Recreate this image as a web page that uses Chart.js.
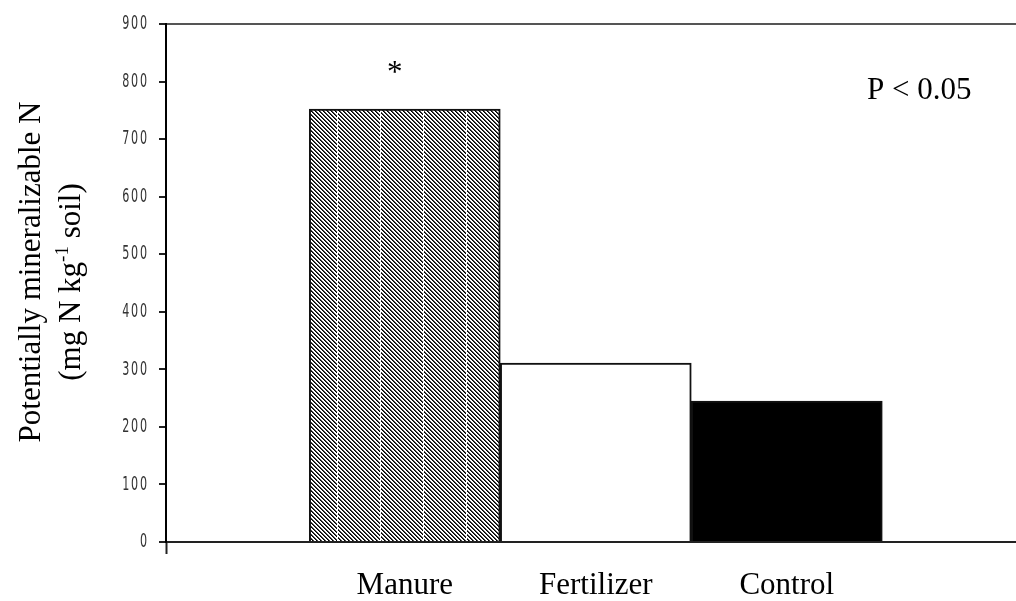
<!DOCTYPE html>
<html>
<head>
<meta charset="utf-8">
<script src="https://cdn.jsdelivr.net/npm/chart.js@4/dist/chart.umd.min.js"></script>
<style>
  body { margin: 0; background: #fff; }
  #wrap { width: 1016px; height: 601px; }
</style>
</head>
<body>
<div id="wrap"><canvas id="chart" width="1016" height="601"></canvas></div>
<script>
// data
const categories = ['Manure', 'Fertilizer', 'Control'];
const positions = [1, 2, 3];
const mineralN = [752, 311, 245];
const yTicks = [0, 100, 200, 300, 400, 500, 600, 700, 800, 900];
const yTitle = ['Potentially mineralizable N', '(mg N kg', '-1', ' soil)'];
const significance = 'P < 0.05';
const starLabel = '*';

const serif = "'Liberation Serif', 'Times New Roman', serif";
const yTickPad = 10;

// hatched fill for the manure bar
function makeHatch() {
    const c = document.createElement('canvas');
    c.width = 172;
    c.height = 4;
    const g = c.getContext('2d');
    const img = g.createImageData(c.width, c.height);
    for (let y = 0; y < c.height; y++) {
        for (let x = 0; x < c.width; x++) {
            const d = (((x - y) % 4) + 4) % 4;
            let v = d === 0 ? 0 : (d === 1 ? 70 : 255);
            if (x % 43 === 36) v = 255;
            const i = (y * c.width + x) * 4;
            img.data[i] = v; img.data[i + 1] = v; img.data[i + 2] = v; img.data[i + 3] = 255;
        }
    }
    g.putImageData(img, 0, 0);
    return g.createPattern(c, 'repeat');
}

const ctx = document.getElementById('chart').getContext('2d');
const hatch = makeHatch();

// narrow, spaced-out y tick digits like the original
const spacedTicks = {
    id: 'spacedTicks',
    beforeDraw(chart) {
        const y = chart.scales.y;
        if (y._spaced) return;
        const orig = y.drawLabels;
        y.drawLabels = function(area) {
            const c = this.ctx;
            const anchor = this.right - 7 - yTickPad;
            c.save();
            c.translate(anchor, 0);
            c.scale(0.62, 1);
            c.translate(-anchor, 0);
            c.letterSpacing = '3px';
            orig.call(this, area);
            c.restore();
        };
        y._spaced = true;
    }
};

// rotated two-line axis title with superscript, star and P value
const annotations = {
    id: 'annotations',
    afterDraw(chart) {
        const c = chart.ctx;
        const xs = chart.scales.x;
        const ys = chart.scales.y;
        const area = chart.chartArea;
        c.save();
        c.fillStyle = '#000';
        c.textBaseline = 'alphabetic';

        // line 1
        c.font = '31px ' + serif;
        c.save();
        c.translate(40, 272);
        c.rotate(-Math.PI / 2);
        c.textAlign = 'center';
        c.fillText(yTitle[0], 0, 0);
        c.restore();

        // line 2 with superscript
        c.save();
        c.translate(80, 282);
        c.rotate(-Math.PI / 2);
        c.textAlign = 'left';
        c.font = '31px ' + serif;
        const w1 = c.measureText(yTitle[1]).width;
        const w3 = c.measureText(yTitle[3]).width;
        c.font = '19px ' + serif;
        const w2 = c.measureText(yTitle[2]).width;
        let x0 = -(w1 + w2 + w3) / 2;
        c.font = '31px ' + serif;
        c.fillText(yTitle[1], x0, 0);
        c.font = '19px ' + serif;
        c.fillText(yTitle[2], x0 + w1, -12);
        c.font = '31px ' + serif;
        c.fillText(yTitle[3], x0 + w1 + w2, 0);
        c.restore();

        // significance star over the manure bar
        c.font = '31px ' + serif;
        c.textAlign = 'center';
        c.fillText(starLabel, xs.getPixelForValue(positions[0]) - 10, ys.getPixelForValue(mineralN[0]) - 27);

        c.textAlign = 'left';
        c.fillText(significance, area.right - 149, 99);
        c.restore();
    }
};

const chart = new Chart(ctx, {
    type: 'bar',
    data: {
        datasets: [{
            data: positions.map((p, i) => ({ x: p, y: mineralN[i] })),
            backgroundColor: [hatch, '#ffffff', '#000000'],
            borderColor: '#111',
            borderWidth: 2,
            categoryPercentage: 1,
            barPercentage: 1
        }]
    },
    options: {
        responsive: false,
        animation: false,
        layout: { padding: { top: 24, right: 0, left: 0, bottom: 0 } },
        plugins: {
            legend: { display: false },
            tooltip: { enabled: false }
        },
        scales: {
            x: {
                type: 'linear',
                min: -0.25,
                max: 4.2,
                offset: false,
                afterBuildTicks(scale) {
                    scale.ticks = [{ value: -0.25 }].concat(positions.map(p => ({ value: p })));
                },
                afterFit(scale) { scale.height = 59; },
                ticks: {
                    autoSkip: false,
                    maxRotation: 0,
                    padding: 13,
                    color: '#000',
                    font: { family: serif, size: 31 },
                    callback(value) {
                        const i = positions.indexOf(value);
                        return i >= 0 ? categories[i] : '';
                    }
                },
                grid: {
                    offset: false,
                    drawOnChartArea: false,
                    tickLength: 12,
                    tickWidth: 2,
                    tickColor: c => c.index === 0 ? '#222' : 'rgba(0,0,0,0)'
                },
                border: { color: '#222', width: 2 }
            },
            y: {
                min: 0,
                max: 900,
                afterBuildTicks(scale) {
                    scale.ticks = yTicks.map(v => ({ value: v }));
                },
                afterFit(scale) { scale.width = 166; },
                ticks: {
                    padding: yTickPad,
                    color: '#333',
                    font: { family: "'DejaVu Sans Condensed', 'DejaVu Sans', sans-serif", size: 20 }
                },
                grid: {
                    drawOnChartArea: true,
                    tickLength: 7,
                    lineWidth: 2,
                    color: c => (c.tick && c.tick.value === 900) ? '#555' : 'rgba(0,0,0,0)',
                    tickColor: '#222'
                },
                border: { color: '#000', width: 2 }
            }
        }
    },
    plugins: [spacedTicks, annotations]
});
</script>
</body>
</html>
